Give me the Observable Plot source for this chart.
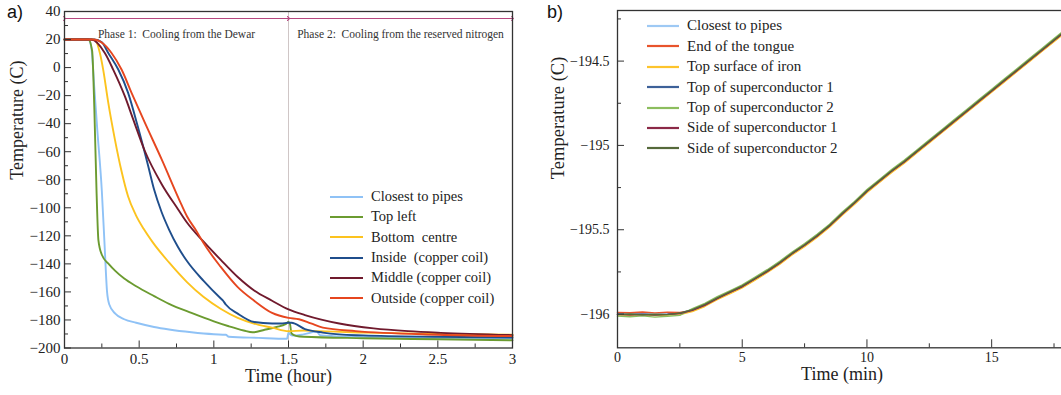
<!DOCTYPE html>
<html>
<head>
<meta charset="utf-8">
<script src="https://cdn.jsdelivr.net/npm/d3@7"></script>
<script src="https://cdn.jsdelivr.net/npm/@observablehq/plot@0.6"></script>
<style>
  html, body { margin: 0; padding: 0; background: #fff; }
  body { width: 1061px; height: 395px; overflow: hidden; position: relative; font-family: "Liberation Serif", serif; color: #222; }
  .chart { position: absolute; top: 0; }
  .chart svg { max-width: none !important; }
  #chartA { left: 0; width: 530px; }
  #chartB { left: 540px; width: 546px; }
  .panel { position: absolute; top: 2px; font-family: "Liberation Sans", Arial, sans-serif; font-size: 18px; color: #111; }
  .legend { position: absolute; font-family: "Liberation Serif", serif; color: #222; }
  .legend .row { display: flex; align-items: center; white-space: pre; }
  .legend svg { display: block; }
</style>
</head>
<body>
<div id="chartA" class="chart"></div>
<div id="chartB" class="chart"></div>
<div class="panel" style="left:7px;">a)</div>
<div class="panel" style="left:547px;">b)</div>
<div id="legendA" class="legend"></div>
<div id="legendB" class="legend"></div>
<script>
// ---------------- Panel a data (time in hours, temperature in C) ----------------
const seriesNamesA = ["Closest to pipes", "Top left", "Bottom  centre", "Inside  (copper coil)", "Middle (copper coil)", "Outside (copper coil)"];
const coloursA = ["#8fc2f6", "#6b9b30", "#fcc31e", "#1f4e8c", "#701a2d", "#e6461f"];

const pipesHour = [0, 0.16, 0.18, 0.2, 0.22, 0.25, 0.27, 0.285, 0.3, 0.34, 0.4, 0.48, 0.6, 0.7, 0.85, 1.0, 1.08, 1.1, 1.3, 1.49, 1.5, 1.51, 1.53, 1.6, 1.69, 1.71, 1.8, 2.0, 2.5, 3.0];
const pipesTemp = [20, 20, 14, -15, -45, -88, -130, -160, -169, -175.5, -179.5, -182, -185, -186.8, -188.8, -190.2, -190.6, -192, -192.8, -193.4, -189, -190.2, -191.2, -190.3, -188.3, -190.8, -191.5, -192, -193, -193];

const topLeftHour = [0, 0.16, 0.185, 0.2, 0.215, 0.227, 0.25, 0.3, 0.34, 0.4, 0.48, 0.6, 0.7, 0.85, 1.0, 1.1, 1.2, 1.26, 1.34, 1.42, 1.48, 1.5, 1.51, 1.52, 1.55, 1.6, 2.0, 2.5, 3.0];
const topLeftTemp = [20, 20, 12, -30, -90, -123, -133.5, -140.5, -145, -150.5, -156, -163, -168.5, -175, -181, -184.5, -187.5, -188.8, -187, -185, -183, -181.5, -183, -189.5, -191.3, -192, -193, -193.8, -194.5];

const bottomHour = [0, 0.2, 0.237, 0.259, 0.293, 0.337, 0.382, 0.426, 0.477, 0.53, 0.59, 0.7, 0.82, 0.93, 1.045, 1.16, 1.3, 1.39, 1.5, 1.6, 1.7, 2.0, 2.5, 3.0];
const bottomTemp = [20, 20, 10.4, -1.4, -25, -51, -74, -92, -105, -115, -124.5, -139, -153, -163.5, -172, -178.5, -183.5, -185.5, -188, -187.5, -188, -189, -190, -190.5];

const insideHour = [0, 0.2, 0.25, 0.293, 0.36, 0.426, 0.49, 0.56, 0.6, 0.65, 0.7, 0.76, 0.82, 0.93, 1.045, 1.06, 1.08, 1.16, 1.27, 1.39, 1.45, 1.5, 1.52, 1.61, 1.73, 1.84, 2.0, 2.5, 3.0];
const insideTemp = [20, 20, 18, 10.4, -1.4, -18, -41.7, -70, -87, -103, -115.5, -128, -138, -152, -164.5, -166, -169, -175.5, -181.5, -182.5, -182.5, -182, -182, -186.5, -189, -190.3, -191, -192, -192.5];

const middleHour = [0, 0.18, 0.27, 0.326, 0.404, 0.46, 0.538, 0.65, 0.76, 0.82, 0.93, 1.045, 1.16, 1.27, 1.39, 1.5, 1.61, 1.84, 2.07, 2.3, 2.52, 3.0];
const middleTemp = [20, 20, 10.4, -1.4, -20.4, -36.9, -59.5, -83, -101, -110.5, -124, -137, -149.4, -159, -166.3, -172.5, -176.5, -182.5, -186, -188, -189.2, -190.8];

const outsideHour = [0, 0.19, 0.26, 0.315, 0.382, 0.449, 0.538, 0.65, 0.78, 0.82, 0.886, 0.93, 1.045, 1.16, 1.27, 1.39, 1.5, 1.57, 1.65, 1.73, 1.95, 2.5, 3.0];
const outsideTemp = [20, 20, 17, 10.4, -1.4, -18, -39.3, -65.3, -97, -106, -117, -125, -142, -156.6, -166.3, -175, -178.5, -179.5, -182.5, -185.5, -188, -190.5, -191.5];

const phaseStart = [0, 1.5];
const phaseEnd = [1.5, 3];
const phaseLabels = ["Phase 1:  Cooling from the Dewar", "Phase 2:  Cooling from the reserved nitrogen"];
const phaseArrowTemp = 35;

const xMajorA = [0, 0.5, 1, 1.5, 2, 2.5, 3];
const xMinorA = [0.25, 0.75, 1.25, 1.75, 2.25, 2.75];
const yMajorA = [-200, -180, -160, -140, -120, -100, -80, -60, -40, -20, 0, 20, 40];
const yMinorA = [-190, -170, -150, -130, -110, -90, -70, -50, -30, -10, 10, 30];

// ---------------- Panel b data (time in minutes, temperature in C) ----------------
const seriesNamesB = ["Closest to pipes", "End of the tongue", "Top surface of iron", "Top of superconductor 1", "Top of superconductor 2", "Side of superconductor 1", "Side of superconductor 2"];
const coloursB = ["#9ec9f4", "#e8542c", "#fdc42c", "#3d6199", "#8cbd5e", "#8b2947", "#55693a"];
const timeMin = [0, 0.5, 1, 1.5, 2, 2.5, 3, 3.5, 4, 4.5, 5, 5.5, 6, 6.5, 7, 7.5, 8, 8.5, 9, 9.5, 10, 10.5, 11, 11.5, 12, 12.5, 13, 13.5, 14, 14.5, 15, 15.5, 16, 16.5, 17, 17.5, 18];
const pipesB = [-195.998,-196.001,-195.997,-196.002,-195.999,-195.993,-195.972,-195.944,-195.902,-195.868,-195.832,-195.788,-195.742,-195.693,-195.637,-195.588,-195.532,-195.472,-195.403,-195.337,-195.268,-195.207,-195.148,-195.092,-195.033,-194.972,-194.913,-194.852,-194.793,-194.732,-194.673,-194.612,-194.553,-194.492,-194.433,-194.372,-194.313];
const tongueB = [-195.990,-195.992,-195.988,-195.993,-195.989,-195.990,-195.978,-195.950,-195.910,-195.876,-195.840,-195.796,-195.750,-195.701,-195.645,-195.596,-195.540,-195.481,-195.410,-195.346,-195.275,-195.216,-195.155,-195.101,-195.040,-194.981,-194.920,-194.861,-194.800,-194.741,-194.680,-194.621,-194.560,-194.501,-194.440,-194.381,-194.320];
const ironB = [-196.004,-196.008,-196.005,-196.009,-196.006,-196.003,-195.985,-195.955,-195.915,-195.880,-195.845,-195.800,-195.755,-195.705,-195.650,-195.600,-195.545,-195.485,-195.415,-195.350,-195.280,-195.220,-195.160,-195.105,-195.045,-194.985,-194.925,-194.865,-194.805,-194.745,-194.685,-194.625,-194.565,-194.505,-194.445,-194.385,-194.325];
const topSc1B = [-196.001,-196.003,-196.001,-196.004,-196.001,-195.996,-195.976,-195.946,-195.906,-195.871,-195.836,-195.791,-195.746,-195.696,-195.641,-195.591,-195.536,-195.476,-195.406,-195.341,-195.271,-195.211,-195.151,-195.096,-195.036,-194.976,-194.916,-194.856,-194.796,-194.736,-194.676,-194.616,-194.556,-194.496,-194.436,-194.376,-194.316];
const topSc2B = [-196.012,-196.016,-196.011,-196.018,-196.013,-196.008,-195.968,-195.937,-195.897,-195.862,-195.827,-195.782,-195.737,-195.687,-195.632,-195.582,-195.527,-195.467,-195.397,-195.332,-195.262,-195.202,-195.142,-195.087,-195.027,-194.967,-194.907,-194.847,-194.787,-194.727,-194.667,-194.607,-194.547,-194.487,-194.427,-194.367,-194.307];
const sideSc1B = [-196.002,-196.004,-196.002,-196.005,-196.002,-195.997,-195.978,-195.948,-195.908,-195.872,-195.838,-195.792,-195.748,-195.698,-195.642,-195.592,-195.538,-195.478,-195.408,-195.342,-195.272,-195.212,-195.152,-195.098,-195.038,-194.978,-194.918,-194.858,-194.798,-194.738,-194.678,-194.618,-194.558,-194.498,-194.438,-194.378,-194.318];
const sideSc2B = [-196.003,-196.000,-196.004,-196.001,-196.003,-195.994,-195.974,-195.943,-195.904,-195.868,-195.833,-195.789,-195.744,-195.694,-195.639,-195.589,-195.534,-195.474,-195.404,-195.339,-195.269,-195.209,-195.149,-195.094,-195.034,-194.974,-194.914,-194.854,-194.794,-194.734,-194.674,-194.614,-194.554,-194.494,-194.434,-194.374,-194.314];

const xMajorB = [0, 5, 10, 15];
const xMinorB = [2.5, 7.5, 12.5, 17.5];
const yMajorB = [-196, -195.5, -195, -194.5];
const yMinorB = [-195.75, -195.25, -194.75, -194.25];

// ---------------- build tables ----------------
const hoursA = [pipesHour, topLeftHour, bottomHour, insideHour, middleHour, outsideHour];
const tempsA = [pipesTemp, topLeftTemp, bottomTemp, insideTemp, middleTemp, outsideTemp];
const rowsA = seriesNamesA.flatMap((name, i) => hoursA[i].map((h, j) => ({series: name, hour: h, temp: tempsA[i][j]})));
const phases = phaseStart.map((s, i) => ({start: s, end: phaseEnd[i], label: phaseLabels[i]}));

const tempsB = [pipesB, tongueB, ironB, topSc1B, topSc2B, sideSc1B, sideSc2B];
const rowsB = seriesNamesB.flatMap((name, i) => timeMin.map((t, j) => ({series: name, minute: t, temp: tempsB[i][j]})));

const fmt = d3.format("~g");
const ink = "#333";
const serif = "'Liberation Serif', serif";

// ---------------- panel a ----------------
const A = {width: 530, height: 395, left: 64, right: 18, top: 11, bottom: 47.5};
const innerWA = A.width - A.left - A.right, innerHA = A.height - A.top - A.bottom;
const plotA = Plot.plot({
  width: A.width, height: A.height,
  marginLeft: A.left, marginRight: A.right, marginTop: A.top, marginBottom: A.bottom,
  x: {domain: [0, 3]},
  y: {domain: [-200, 40]},
  color: {domain: seriesNamesA, range: coloursA},
  style: {fontFamily: serif, fontSize: "15px", background: "transparent", color: "#222", maxWidth: "none"},
  marks: [
    Plot.ruleX([phaseEnd[0]], {stroke: "#cfc6c6", strokeWidth: 1}),
    Plot.line(rowsA, {x: "hour", y: "temp", z: "series", stroke: "series", strokeWidth: 1.9, curve: "monotone-x"}),
    Plot.link(phases, {x1: "start", x2: "end", y1: () => phaseArrowTemp, y2: () => phaseArrowTemp, stroke: "#b5467f", strokeWidth: 1, markerStart: "arrow", markerEnd: "arrow"}),
    Plot.text(phases, {x: d => (d.start + d.end) / 2, text: "label", frameAnchor: "top", dy: 18, fontSize: 11.5, fontFamily: serif, fill: "#333"}),
    Plot.axisX({ticks: xMajorA, tickSize: 0, tickPadding: 5, tickFormat: fmt, label: null, fontFamily: serif, fontSize: 15}),
    Plot.axisY({ticks: yMajorA, tickSize: 0, tickPadding: 4, tickFormat: fmt, label: null, fontFamily: serif, fontSize: 15}),
    Plot.tickX(xMajorA, {x: d => d, insetTop: innerHA - 7, stroke: ink, strokeWidth: 1}),
    Plot.tickX(xMinorA, {x: d => d, insetTop: innerHA - 4, stroke: ink, strokeWidth: 1}),
    Plot.tickY(yMajorA, {y: d => d, insetRight: innerWA - 7, stroke: ink, strokeWidth: 1}),
    Plot.tickY(yMinorA, {y: d => d, insetRight: innerWA - 4, stroke: ink, strokeWidth: 1}),
    Plot.frame({stroke: ink, strokeWidth: 1.3}),
    Plot.text(["Time (hour)"], {text: d => d, frameAnchor: "bottom", dy: 34, fontSize: 18, fontFamily: serif, fill: "#222"}),
    Plot.text(["Temperature (C)"], {text: d => d, frameAnchor: "left", rotate: -90, dx: -47, fontSize: 18, fontFamily: serif, fill: "#222"})
  ]
});
document.getElementById("chartA").appendChild(plotA);

// ---------------- panel b ----------------
const B = {width: 546, height: 395, left: 77, right: 20, top: 10, bottom: 47.7};
const innerWB = B.width - B.left - B.right, innerHB = B.height - B.top - B.bottom;
const plotB = Plot.plot({
  width: B.width, height: B.height,
  marginLeft: B.left, marginRight: B.right, marginTop: B.top, marginBottom: B.bottom,
  x: {domain: [0, 18]},
  y: {domain: [-196.2, -194.2]},
  color: {domain: seriesNamesB, range: coloursB},
  style: {fontFamily: serif, fontSize: "14px", background: "transparent", color: "#222", maxWidth: "none"},
  marks: [
    Plot.line(rowsB, {x: "minute", y: "temp", z: "series", stroke: "series", strokeWidth: 1.4}),
    Plot.axisX({ticks: xMajorB, tickSize: 0, tickPadding: 4, tickFormat: fmt, label: null, fontFamily: serif, fontSize: 14}),
    Plot.axisY({ticks: yMajorB, tickSize: 0, tickPadding: 8, tickFormat: fmt, label: null, fontFamily: serif, fontSize: 14}),
    Plot.tickX(xMajorB, {x: d => d, insetTop: innerHB - 8, stroke: ink, strokeWidth: 1}),
    Plot.tickX(xMinorB, {x: d => d, insetTop: innerHB - 4, stroke: ink, strokeWidth: 1}),
    Plot.tickY(yMajorB, {y: d => d, insetRight: innerWB - 7, stroke: ink, strokeWidth: 1}),
    Plot.tickY(yMinorB, {y: d => d, insetRight: innerWB - 4, stroke: ink, strokeWidth: 1}),
    Plot.frame({stroke: ink, strokeWidth: 1.3}),
    Plot.text(["Time (min)"], {text: d => d, frameAnchor: "bottom", dy: 32, fontSize: 18, fontFamily: serif, fill: "#222"}),
    Plot.text(["Temperature (C)"], {text: d => d, frameAnchor: "left", rotate: -90, dx: -59, fontSize: 18.5, fontFamily: serif, fill: "#222"})
  ]
});
document.getElementById("chartB").appendChild(plotB);

// ---------------- legends (HTML overlays) ----------------
function buildLegend(el, names, colours, opts) {
  el.style.left = opts.left + "px";
  el.style.top = opts.top + "px";
  el.style.fontSize = opts.fontSize + "px";
  names.forEach((name, i) => {
    const row = document.createElement("div");
    row.className = "row";
    row.style.height = opts.rowHeight + "px";
    row.innerHTML = `<svg width="${opts.swatch}" height="6" style="margin-right:${opts.gap}px"><line x1="0" x2="${opts.swatch}" y1="3" y2="3" stroke="${colours[i]}" stroke-width="${opts.lineWidth}"/></svg><span></span>`;
    row.querySelector("span").textContent = name;
    el.appendChild(row);
  });
}
buildLegend(document.getElementById("legendA"), seriesNamesA, coloursA, {left: 330, top: 186.5, fontSize: 14.5, rowHeight: 20.3, swatch: 33, gap: 8, lineWidth: 2.2});
buildLegend(document.getElementById("legendB"), seriesNamesB, coloursB, {left: 647, top: 15.8, fontSize: 15, rowHeight: 20.4, swatch: 32, gap: 8, lineWidth: 2.2});
</script>
</body>
</html>
